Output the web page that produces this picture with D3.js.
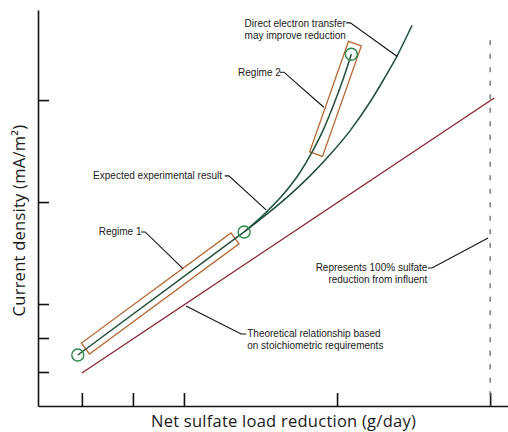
<!DOCTYPE html>
<html>
<head>
<meta charset="utf-8">
<script src="https://cdn.jsdelivr.net/npm/d3@7"></script>
<style>
  body { margin: 0; background: #fff; }
  .note { font-family: "Liberation Sans", Arial, sans-serif; font-size: 10px; fill: #1a1a1a; }
  .axis-label { font-family: "Open Sans", sans-serif; font-size: 16.5px; letter-spacing: 0.25px; fill: #1a1a1a; }
</style>
</head>
<body>
<svg class="chart"></svg>
<script>
// tick positions (no labels on the original)
var xTicks = [1, 2, 3, 6, 9];
var yTicks = [1, 2, 3, 6, 9];

// theoretical stoichiometric line
var theoretical = [[1.0, 0.97], [9.08, 9.06]];

// expected result, regime 1 (linear part)
var regime1Line = [[0.92, 1.50], [4.18, 5.12]];

// expected result after the break: two branches
var upperBranch = [[4.18, 5.12], [4.57, 5.64], [4.96, 6.25], [5.26, 6.84], [5.51, 7.47],
                   [5.75, 8.19], [5.94, 8.89], [6.12, 9.62], [6.28, 10.35]];
var outerBranch = [[4.18, 5.12], [4.63, 5.65], [5.08, 6.22], [5.47, 6.77], [5.86, 7.39],
                   [6.26, 8.11], [6.65, 8.95], [6.92, 9.62], [7.18, 10.31], [7.47, 11.20]];

var markers = [[0.92, 1.50], [4.18, 5.12], [6.28, 10.35]];

// regime boxes: centre line ends
var regimeBoxes = [
  [[1.07, 1.69], [4.00, 4.93]],
  [[5.59, 7.41], [6.35, 10.66]]
];

var fullReduction = 9; // 100 % sulfate reduction
var fullReductionTop = 10.76;

var notes = [
  { lines: ["Direct electron transfer", "may improve reduction"], anchor: "middle", at: [5.18, 11.16],
    leader: [[6.18, 11.27], [6.26, 11.27], [7.18, 10.28]] },
  { lines: ["Regime 2"], anchor: "start", at: [4.06, 9.72],
    leader: [[4.88, 9.82], [4.96, 9.82], [5.74, 8.79]] },
  { lines: ["Expected experimental result"], anchor: "start", at: [1.22, 6.69],
    leader: [[3.80, 6.77], [3.88, 6.77], [4.61, 5.77]] },
  { lines: ["Regime 1"], anchor: "start", at: [1.33, 5.02],
    leader: [[2.16, 5.12], [2.24, 5.12], [2.98, 4.04]] },
  { lines: ["Theoretical relationship based", "on stoichiometric requirements"], anchor: "start", at: [4.24, 2.02],
    leader: [[4.22, 2.12], [4.12, 2.12], [3.04, 2.94]] },
  { lines: ["Represents 100% sulfate", "reduction from influent"], anchor: "end", at: [7.77, 3.96],
    leader: [[7.78, 4.06], [7.86, 4.06], [8.96, 4.94]] }
];

var width = 508, height = 432;
var margin = {top: 10, right: 0, bottom: 26, left: 38};

var x = d3.scaleLinear().domain([0.14, 9.35]).range([margin.left, width - margin.right]);
var y = d3.scaleLinear().domain([0, 11.65]).range([height - margin.bottom, margin.top]);

var svg = d3.select('.chart')
    .attr('width', width)
    .attr('height', height);

var line = d3.line().x(function(d) { return x(d[0]); }).y(function(d) { return y(d[1]); });
var curve = d3.line().curve(d3.curveMonotoneX)
    .x(function(d) { return x(d[0]); }).y(function(d) { return y(d[1]); });

// axes, ticks pointing inward
svg.append("g")
    .attr("transform", "translate(" + margin.left + ",0)")
    .call(d3.axisRight(y).tickValues(yTicks).tickSize(11).tickSizeOuter(0).tickFormat(""))
    .call(function(g) { g.selectAll("line, path").attr("stroke", "#111").attr("stroke-width", 1.6); });

svg.append("g")
    .attr("transform", "translate(0," + (height - margin.bottom) + ")")
    .call(d3.axisTop(x).tickValues(xTicks).tickSize(13).tickSizeOuter(0).tickFormat(""))
    .call(function(g) { g.selectAll("line, path").attr("stroke", "#111").attr("stroke-width", 1.6); });

// 100% reduction marker
svg.append("line")
    .attr("x1", x(fullReduction)).attr("x2", x(fullReduction))
    .attr("y1", y(fullReductionTop)).attr("y2", y(0))
    .attr("stroke", "#666")
    .attr("stroke-width", 1.3)
    .attr("stroke-dasharray", "5,8.5");

// theoretical relationship
svg.append("path")
    .attr("d", line(theoretical))
    .attr("fill", "none")
    .attr("stroke", "#8a2630")
    .attr("stroke-width", 1.4);

// regime boxes
var boxHalf = 6.8;
svg.selectAll(".regime")
    .data(regimeBoxes)
    .enter()
    .append("path")
    .attr("class", "regime")
    .attr("fill", "none")
    .attr("stroke", "#b5672f")
    .attr("stroke-width", 1.3)
    .attr("d", function(d) {
      var x0 = x(d[0][0]), y0 = y(d[0][1]), x1 = x(d[1][0]), y1 = y(d[1][1]);
      var len = Math.sqrt((x1 - x0) * (x1 - x0) + (y1 - y0) * (y1 - y0));
      var nx = -(y1 - y0) / len * boxHalf, ny = (x1 - x0) / len * boxHalf;
      return "M" + (x0 + nx) + "," + (y0 + ny) + "L" + (x1 + nx) + "," + (y1 + ny) +
             "L" + (x1 - nx) + "," + (y1 - ny) + "L" + (x0 - nx) + "," + (y0 - ny) + "Z";
    });

// expected result
var green = "#1e4f38";
svg.append("path").attr("d", line(regime1Line))
    .attr("fill", "none").attr("stroke", green).attr("stroke-width", 1.5);
svg.append("path").attr("d", curve(upperBranch))
    .attr("fill", "none").attr("stroke", green).attr("stroke-width", 1.5);
svg.append("path").attr("d", curve(outerBranch))
    .attr("fill", "none").attr("stroke", green).attr("stroke-width", 1.5);

svg.selectAll(".marker")
    .data(markers)
    .enter()
    .append("circle")
    .attr("class", "marker")
    .attr("cx", function(d) { return x(d[0]); })
    .attr("cy", function(d) { return y(d[1]); })
    .attr("r", 6)
    .attr("fill", "none")
    .attr("stroke", "#2a8a4a")
    .attr("stroke-width", 1.4);

// annotations
var n = svg.selectAll(".ann")
    .data(notes)
    .enter()
    .append("g")
    .attr("class", "ann");

n.append("path")
    .attr("d", function(d) { return line(d.leader); })
    .attr("fill", "none")
    .attr("stroke", "#111")
    .attr("stroke-width", 1.1);

n.append("text")
    .attr("class", "note")
    .attr("text-anchor", function(d) { return d.anchor; })
    .attr("x", function(d) { return x(d.at[0]); })
    .attr("y", function(d) { return y(d.at[1]); })
    .selectAll("tspan")
    .data(function(d) { return d.lines.map(function(t) { return {t: t, x: x(d.at[0])}; }); })
    .enter()
    .append("tspan")
    .attr("x", function(d) { return d.x; })
    .attr("dy", function(d, i) { return i ? 12 : 0; })
    .text(function(d) { return d.t; });

// axis titles
svg.append("text")
    .attr("class", "axis-label")
    .attr("x", 283.5)
    .attr("y", 427)
    .attr("text-anchor", "middle")
    .text("Net sulfate load reduction (g/day)");

svg.append("text")
    .attr("class", "axis-label")
    .attr("transform", "translate(25,220.5) rotate(-90)")
    .attr("text-anchor", "middle")
    .text("Current density (mA/m²)");
</script>
</body>
</html>
